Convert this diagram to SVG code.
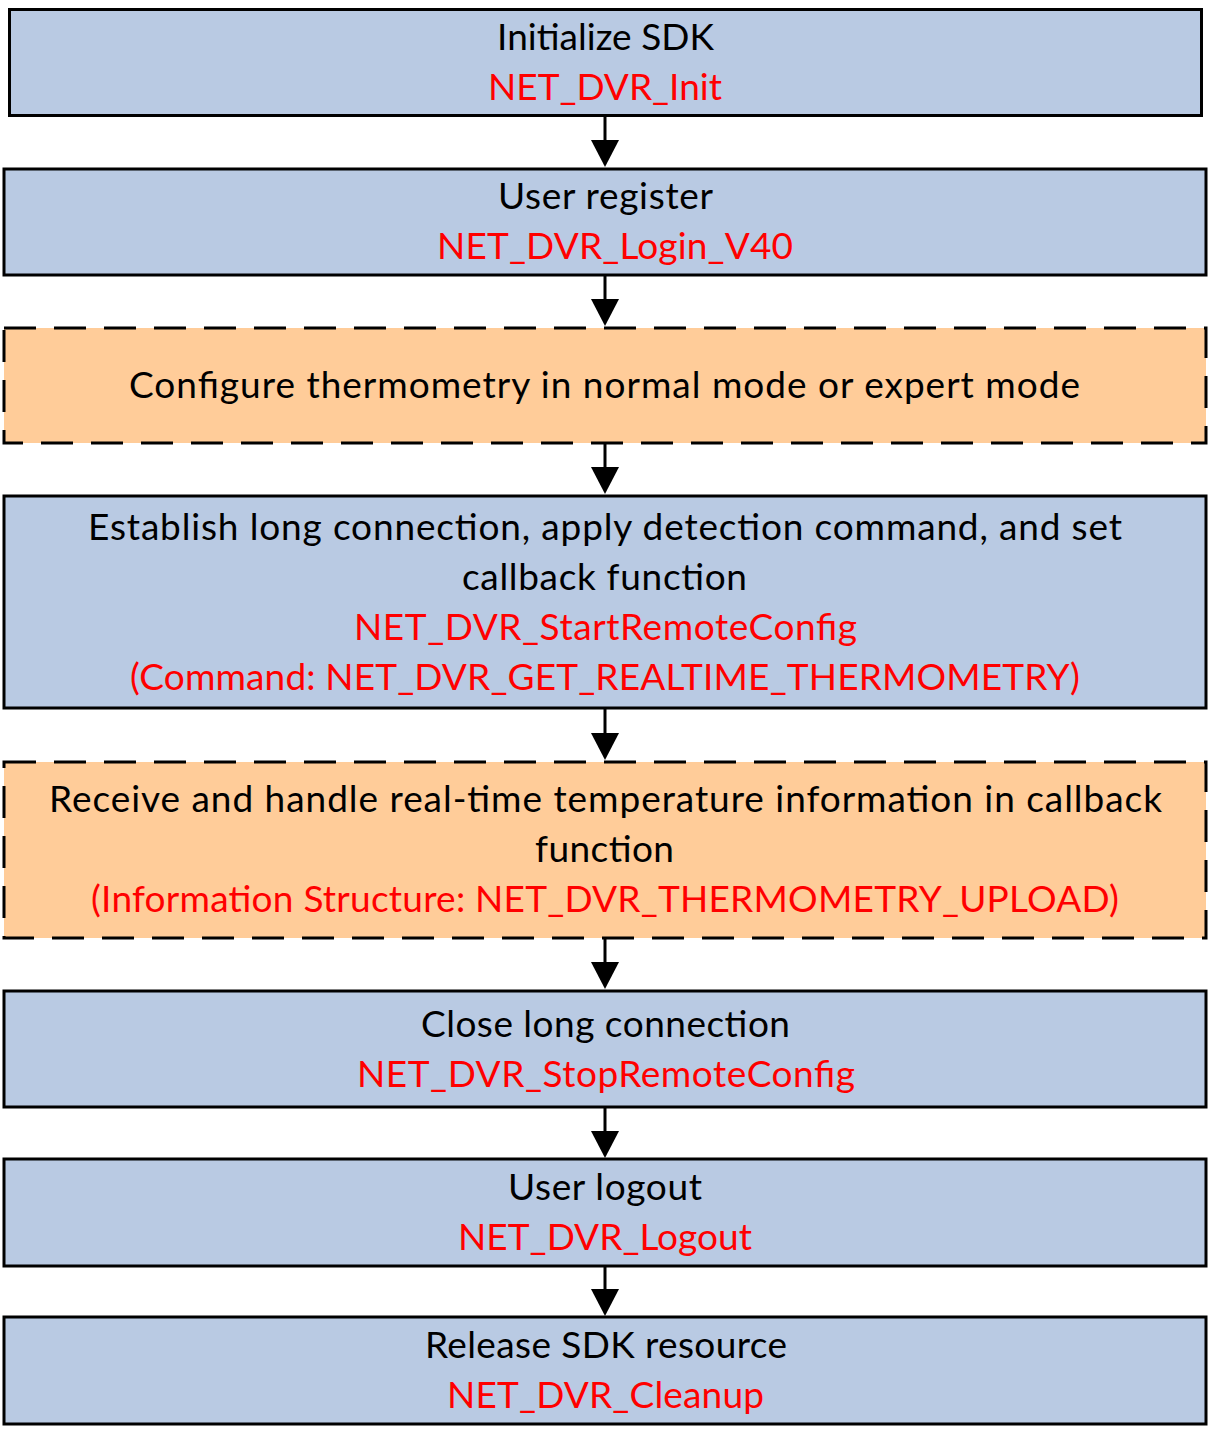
<svg xmlns="http://www.w3.org/2000/svg" width="1210" height="1442" viewBox="0 0 1210 1442">
<defs>
<style>
.b{fill:#B9CAE3;stroke:#000;stroke-width:3}
.o{fill:#FFCC99;stroke:#000;stroke-width:3;stroke-dasharray:32 18}
text{font-family:Lato,"Open Sans","Liberation Sans",sans-serif;font-size:37px;text-anchor:middle}
.k{fill:#000}
.r{fill:#FF0000}
.c{stroke:#000;stroke-width:3;fill:none}
</style>
</defs>
<rect width="1210" height="1442" fill="#fff"/>
<g id="connectors">
<line class="c" x1="605" y1="116" x2="605" y2="144"/>
<path d="M591,140 L619,140 L605,167 Z"/>
<line class="c" x1="605" y1="275" x2="605" y2="303"/>
<path d="M591,299 L619,299 L605,326 Z"/>
<line class="c" x1="605" y1="443" x2="605" y2="471"/>
<path d="M591,467 L619,467 L605,494 Z"/>
<line class="c" x1="605" y1="708" x2="605" y2="737"/>
<path d="M591,733 L619,733 L605,760 Z"/>
<line class="c" x1="605" y1="938" x2="605" y2="966"/>
<path d="M591,962 L619,962 L605,989 Z"/>
<line class="c" x1="605" y1="1107" x2="605" y2="1135"/>
<path d="M591,1131 L619,1131 L605,1158 Z"/>
<line class="c" x1="605" y1="1266" x2="605" y2="1293"/>
<path d="M591,1289 L619,1289 L605,1316 Z"/>
</g>
<g id="n1">
<rect class="b" x="9.5" y="9.5" width="1192" height="106"/>
<text class="k" x="605.5" y="50" textLength="217">Initialize SDK</text>
<text class="r" x="605" y="100" textLength="234">NET_DVR_Init</text>
</g>
<g id="n2">
<rect class="b" x="4" y="169" width="1202" height="106"/>
<text class="k" x="605.5" y="209" textLength="215">User register</text>
<text class="r" x="615" y="259" textLength="356">NET_DVR_Login_V40</text>
</g>
<g id="n3">
<rect class="o" x="4" y="328" width="1202" height="115"/>
<text class="k" x="604.5" y="398" textLength="951">Configure thermometry in normal mode or expert mode</text>
</g>
<g id="n4">
<rect class="b" x="4" y="496" width="1202" height="212"/>
<text class="k" x="605" y="540" textLength="1034">Establish long connection, apply detection command, and set</text>
<text class="k" x="604.5" y="590" textLength="285">callback function</text>
<text class="r" x="605.5" y="640" textLength="503">NET_DVR_StartRemoteConfig</text>
<text class="r" x="605" y="690" textLength="950">(Command: NET_DVR_GET_REALTIME_THERMOMETRY)</text>
</g>
<g id="n5">
<rect class="o" x="4" y="762" width="1202" height="176"/>
<text class="k" x="605.5" y="812" textLength="1113">Receive and handle real-time temperature information in callback</text>
<text class="k" x="604.5" y="862" textLength="139">function</text>
<text class="r" x="605" y="912" textLength="1028">(Information Structure: NET_DVR_THERMOMETRY_UPLOAD)</text>
</g>
<g id="n6">
<rect class="b" x="4" y="991" width="1202" height="116"/>
<text class="k" x="605.5" y="1037" textLength="369">Close long connection</text>
<text class="r" x="606" y="1087" textLength="498">NET_DVR_StopRemoteConfig</text>
</g>
<g id="n7">
<rect class="b" x="4" y="1159" width="1202" height="107"/>
<text class="k" x="605" y="1200" textLength="194">User logout</text>
<text class="r" x="605" y="1250" textLength="294">NET_DVR_Logout</text>
</g>
<g id="n8">
<rect class="b" x="4" y="1317" width="1202" height="107"/>
<text class="k" x="606" y="1358" textLength="362">Release SDK resource</text>
<text class="r" x="605.5" y="1408" textLength="317">NET_DVR_Cleanup</text>
</g>
</svg>
